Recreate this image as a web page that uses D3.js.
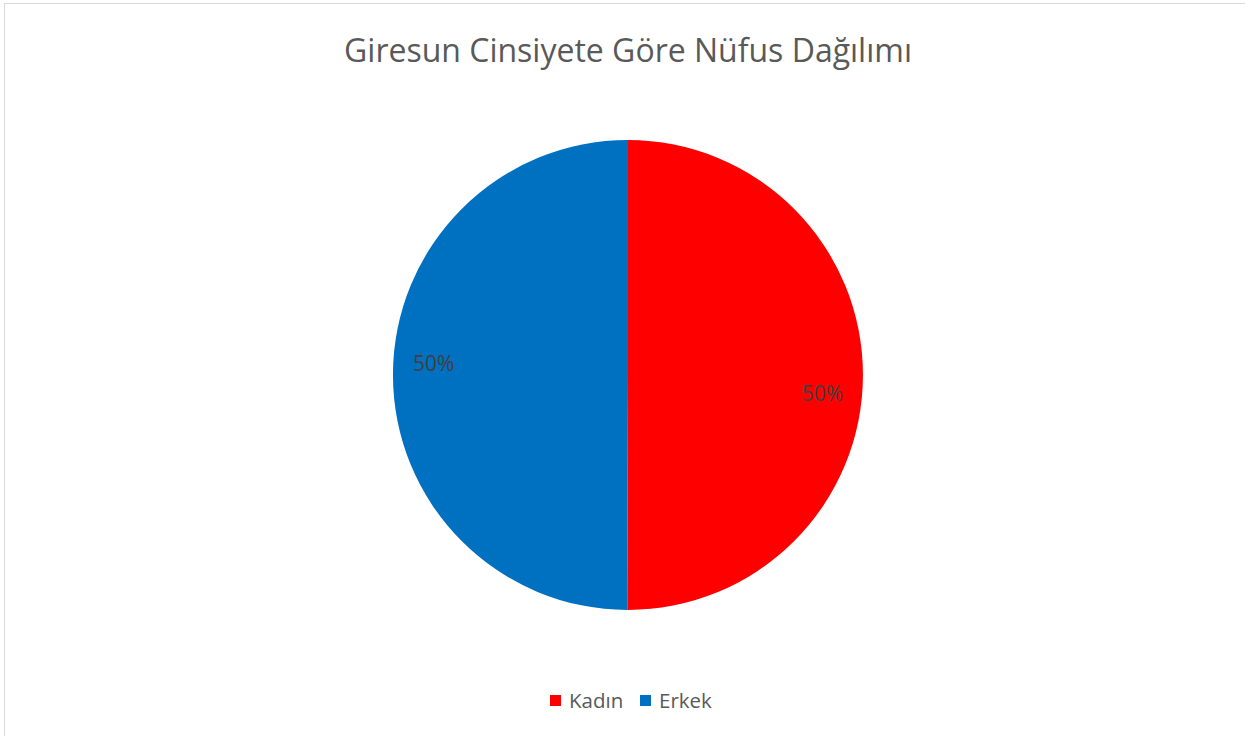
<!DOCTYPE html>
<html lang="tr">
<head>
  <meta charset="UTF-8">
  <title>Giresun Cinsiyete Göre Nüfus Dağılımı</title>
  <script src="https://d3js.org/d3.v7.min.js"></script>
  <style>
    body { margin: 0; overflow: hidden; background: white; }
    text { font-family: "Open Sans", "Noto Sans", sans-serif; }
  </style>
</head>
<body>
  <script>
    const width = 1245;
    const height = 736;

    // data
    const categories = ["Kadın", "Erkek"];
    const values = [50.05, 49.95];
    const colors = ["#FF0000", "#0070C0"];
    const title = "Giresun Cinsiyete Göre Nüfus Dağılımı";

    const svg = d3.select("body")
      .append("svg")
      .attr("width", width)
      .attr("height", height);

    // chart area border
    svg.append("rect")
      .attr("x", 4.5)
      .attr("y", 3.5)
      .attr("width", width + 10)
      .attr("height", height + 10)
      .attr("fill", "white")
      .attr("stroke", "#d9d9d9")
      .attr("stroke-width", 1);

    svg.append("text")
      .attr("x", 628)
      .attr("y", 62)
      .attr("text-anchor", "middle")
      .attr("font-size", 32)
      .attr("fill", "#595959")
      .text(title);

    const cx = 628, cy = 375, radius = 235;
    const data = categories.map((c, i) => ({ name: c, value: values[i], color: colors[i] }));

    const pie = d3.pie().sort(null).value(d => d.value);
    const arc = d3.arc().innerRadius(0).outerRadius(radius);
    const arcs = pie(data);

    const g = svg.append("g").attr("transform", `translate(${cx},${cy})`);

    g.selectAll("path")
      .data(arcs)
      .enter()
      .append("path")
      .attr("d", arc)
      .attr("fill", d => d.data.color);

    const total = d3.sum(values);
    const labelR = 195;
    const labelAngle = d => (d.startAngle + d.endAngle) / 2 + 0.075;
    g.selectAll("text.lbl")
      .data(arcs)
      .enter()
      .append("text")
      .attr("class", "lbl")
      .attr("x", d => Math.sin(labelAngle(d)) * labelR)
      .attr("y", d => -Math.cos(labelAngle(d)) * labelR + 4)
      .attr("dy", "0.35em")
      .attr("text-anchor", "middle")
      .attr("font-size", 21)
      .attr("fill", "#404040")
      .text(d => Math.round(d.data.value / total * 100) + "%");

    // legend
    const legend = svg.append("g");
    const items = legend.selectAll("g")
      .data(data)
      .enter()
      .append("g")
      .attr("transform", (d, i) => `translate(${550 + i * 90},0)`);

    items.append("rect")
      .attr("x", 0)
      .attr("y", 695)
      .attr("width", 11)
      .attr("height", 11)
      .attr("fill", d => d.color);

    items.append("text")
      .attr("x", 19)
      .attr("y", 708)
      .attr("font-size", 20.5)
      .attr("fill", "#595959")
      .text(d => d.name);
  </script>
</body>
</html>
